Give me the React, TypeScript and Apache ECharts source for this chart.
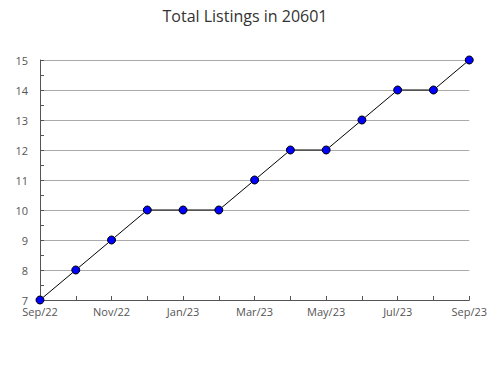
import React, { useEffect, useRef } from "react";
import * as echarts from "echarts";

const categories = ["Sep/22","Oct/22","Nov/22","Dec/22","Jan/23","Feb/23","Mar/23","Apr/23","May/23","Jun/23","Jul/23","Aug/23","Sep/23"];
const values = [7, 8, 9, 10, 10, 10, 11, 12, 12, 13, 14, 14, 15];
const titleText = "Total Listings in 20601";

export default function App() {
  const ref = useRef<HTMLDivElement>(null);
  useEffect(() => {
    if (!ref.current) return;
    const chart = echarts.init(ref.current, undefined, { renderer: "svg" });
    const font = "'Open Sans', 'Noto Sans', sans-serif";
    chart.setOption({
      animation: false,
      backgroundColor: "#ffffff",
      title: {
        text: titleText,
        left: "center",
        top: 3,
        textStyle: { fontFamily: font, fontSize: 16, fontWeight: "normal", color: "#333333" },
      },
      grid: { left: 40, right: 19, top: 60, bottom: 80, containLabel: false },
      xAxis: {
        type: "category",
        data: categories,
        boundaryGap: false,
        axisLine: { lineStyle: { color: "#555555", width: 1 } },
        axisTick: { show: true, inside: true, length: 4, interval: 0, lineStyle: { color: "#555555" } },
        axisLabel: { interval: 1, margin: 6, fontFamily: font, fontSize: 11, color: "#555555", showMaxLabel: true },
        splitLine: { show: false },
      },
      yAxis: {
        type: "value",
        min: 7,
        max: 15,
        interval: 1,
        axisLine: { show: true, lineStyle: { color: "#555555", width: 1 } },
        axisTick: { show: true, inside: true, length: 4, lineStyle: { color: "#555555" } },
        minorTick: { show: true, splitNumber: 2, length: 4, lineStyle: { color: "#555555" } },
        axisLabel: { margin: 12, fontFamily: font, fontSize: 11, color: "#555555" },
        splitLine: { show: true, lineStyle: { color: "#aaaaaa", width: 1 } },
      },
      series: [
        {
          type: "line",
          data: values,
          symbol: "circle",
          symbolSize: 8,
          lineStyle: { color: "#000000", width: 1 },
          itemStyle: { color: "#0000ff", borderColor: "#000000", borderWidth: 1 },
        },
      ],
    });
    return () => chart.dispose();
  }, []);
  return <div ref={ref} style={{ width: 490, height: 380, position: "absolute", left: 0, top: 0 }} />;
}
